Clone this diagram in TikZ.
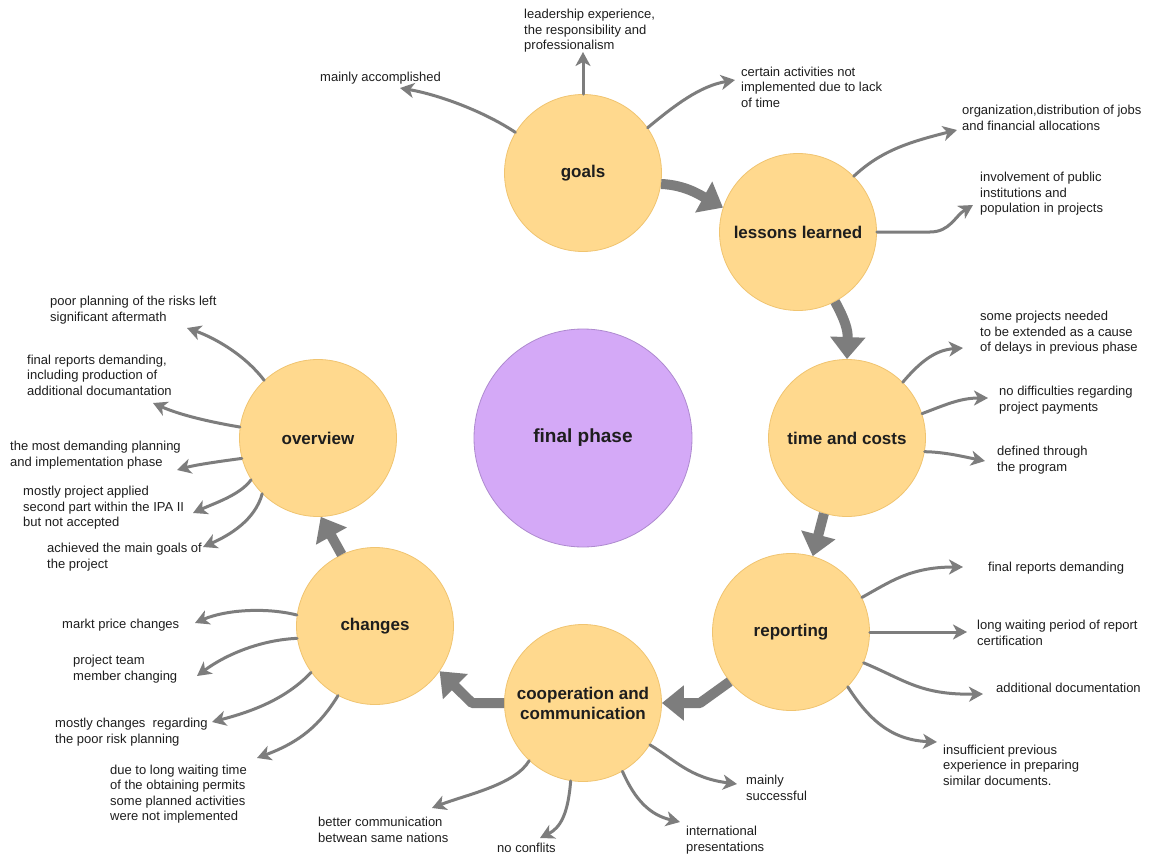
\documentclass[tikz,border=0pt]{standalone}
\usepackage{fontspec}
\setmainfont{Liberation Sans}
\usetikzlibrary{arrows.meta}
\definecolor{nodefill}{HTML}{FFD98E}
\definecolor{nodeline}{HTML}{F0C470}
\definecolor{hubfill}{HTML}{D4A9F7}
\definecolor{hubline}{HTML}{AE8ACF}
\definecolor{link}{HTML}{7D7D7D}
\definecolor{ink}{HTML}{1E1E1E}
\begin{document}
\begin{tikzpicture}[x=1pt,y=-1pt,
  topic/.style={circle, fill=nodefill, draw=nodeline, line width=0.8pt,
    minimum size=157pt, inner sep=0pt, align=center, text=ink,
    font=\fontsize{17}{20}\selectfont\bfseries},
  hub/.style={circle, fill=hubfill, draw=hubline, line width=0.8pt,
    minimum size=218pt, inner sep=0pt, text=ink,
    font=\fontsize{19}{22}\selectfont\bfseries},
  note/.style={anchor=west, inner sep=0pt, align=left, text=ink,
    font=\fontsize{13}{15.5}\selectfont},
  flow/.style={draw=link, line width=10pt, line join=round,
    -{Triangle[length=22pt,width=34pt]}},
  branch/.style={draw=link, line width=3pt, line cap=round,
    -{Stealth[length=14pt,width=15pt,inset=4pt]}},
]
\useasboundingbox (0,0) rectangle (1157,856);
\fill[white] (0,0) rectangle (1157,856);

% central hub and the seven topics
\node[hub] (hub) at (583,438) {final phase};
\node[topic] (goals) at (583,173) {goals};
\node[topic] (lessons) at (798,232) {lessons learned};
\node[topic] (time) at (847,438) {time and costs};
\node[topic] (rep) at (791,632) {reporting};
\node[topic] (coop) at (583,703) {cooperation and\\communication};
\node[topic] (chg) at (375,626) {changes};
\node[topic] (ovw) at (318,438) {overview};

% notes
\node[note] (g1) at (320,78) {mainly accomplished};
\node[note] (g2) at (524,31) {leadership experience,\\the responsibility and\\professionalism};
\node[note] (g3) at (741,87) {certain activities not\\implemented due to lack\\of time};
\node[note] (l1) at (962,118) {organization,distribution of jobs\\and financial allocations};
\node[note] (l2) at (980,194) {involvement of public\\institutions and\\population in projects};
\node[note] (c1) at (980,333) {some projects needed\\to be extended as a cause\\of delays in previous phase};
\node[note] (c2) at (999,400) {no difficulties regarding\\project payments};
\node[note] (c3) at (997,460) {defined through\\the program};
\node[note] (r1) at (988,568) {final reports demanding};
\node[note] (r2) at (977,633) {long waiting period of report\\certification};
\node[note] (r3) at (996,688) {additional documentation};
\node[note] (r4) at (943,765) {insufficient previous\\experience in preparing\\similar documents.};
\node[note] (k1) at (746,788) {mainly\\successful};
\node[note] (k2) at (686,840) {international\\presentations};
\node[note] (k3) at (497,848) {no conflits};
\node[note] (k4) at (318,830) {better communication\\betwean same nations};
\node[note] (h1) at (62,625) {markt price changes};
\node[note] (h2) at (73,669) {project team\\member changing};
\node[note] (h3) at (55,732) {mostly changes\ \ regarding\\the poor risk planning};
\node[note] (h4) at (110,794) {due to long waiting time\\of the obtaining permits\\some planned activities\\were not implemented};
\node[note] (o1) at (50,310) {poor planning of the risks left\\significant aftermath};
\node[note] (o2) at (27,375) {final reports demanding,\\including production of\\additional documantation};
\node[note] (o3) at (10,455) {the most demanding planning\\and implementation phase};
\node[note] (o4) at (23,508) {mostly project applied\\second part within the IPA II\\but not accepted};
\node[note] (o5) at (47,557) {achieved the main goals of\\the project};

% arrow ends next to the notes
\coordinate (tg1) at (400,88);
\coordinate (tg2) at (583,52);
\coordinate (tg3) at (735,80);
\coordinate (tl1) at (957,130);
\coordinate (tl2) at (973,205);
\coordinate (tc1) at (963,348);
\coordinate (tc2) at (988,398);
\coordinate (tc3) at (985,461);
\coordinate (tr1) at (963,567);
\coordinate (tr2) at (967,632);
\coordinate (tr3) at (983,694);
\coordinate (tr4) at (937,742);
\coordinate (tk1) at (737,784);
\coordinate (tk2) at (680,822);
\coordinate (tk3) at (540,838);
\coordinate (tk4) at (432,808);
\coordinate (th1) at (195,623);
\coordinate (th2) at (197,676);
\coordinate (th3) at (212,722);
\coordinate (th4) at (257,758);
\coordinate (to1) at (187,328);
\coordinate (to2) at (153,403);
\coordinate (to3) at (177,470);
\coordinate (to4) at (193,513);
\coordinate (to5) at (203,547);

% the cycle of topics
\draw[flow] (goals.-8) .. controls (685,185) and (700,195) .. (lessons.162);
\draw[flow] (lessons.-62) .. controls (845,320) and (848,330) .. (time.90);
\draw[flow] (time.-107) -- (rep.74);
\draw[flow] (rep.219) -- (700,703) -- (coop.0);
\draw[flow] (coop.180) -- (472,703) -- (chg.-35);
\draw[flow] (chg.115) -- (ovw.-88);

% branches to the notes
\draw[branch] (goals.149) .. controls (485,112) and (440,95) .. (tg1);
\draw[branch] (goals.90) -- (tg2);
\draw[branch] (goals.35) .. controls (675,105) and (700,86) .. (tg3);
\draw[branch] (lessons.45) .. controls (880,152) and (905,143) .. (tl1);
\draw[branch] (lessons.0) -- (930,232) .. controls (950,232) and (955,216) .. (tl2);
\draw[branch] (time.45) .. controls (920,362) and (935,350) .. (tc1);
\draw[branch] (time.18) .. controls (945,405) and (960,398) .. (tc2);
\draw[branch] (time.-10) .. controls (945,452) and (965,457) .. (tc3);
\draw[branch] (rep.26) .. controls (890,582) and (910,567) .. (tr1);
\draw[branch] (rep.0) -- (tr2);
\draw[branch] (rep.-23) .. controls (905,680) and (920,695) .. (tr3);
\draw[branch] (rep.-44) .. controls (868,718) and (890,740) .. (tr4);
\draw[branch] (coop.-32) .. controls (675,760) and (690,778) .. (tk1);
\draw[branch] (coop.-60) .. controls (635,800) and (650,815) .. (tk2);
\draw[branch] (coop.-99) .. controls (568,815) and (560,828) .. (tk3);
\draw[branch] (coop.-133) .. controls (515,785) and (465,795) .. (tk4);
\draw[branch] (chg.172) .. controls (265,607) and (225,610) .. (th1);
\draw[branch] (chg.189) .. controls (260,640) and (225,655) .. (th2);
\draw[branch] (chg.216) .. controls (285,700) and (250,712) .. (th3);
\draw[branch] (chg.242) .. controls (320,725) and (300,742) .. (th4);
\draw[branch] (ovw.133) .. controls (245,355) and (215,338) .. (to1);
\draw[branch] (ovw.172) .. controls (210,422) and (180,415) .. (to2);
\draw[branch] (ovw.195) .. controls (215,462) and (195,465) .. (to3);
\draw[branch] (ovw.212) .. controls (240,495) and (215,503) .. (to4);
\draw[branch] (ovw.225) .. controls (255,520) and (230,535) .. (to5);
\end{tikzpicture}
\end{document}
